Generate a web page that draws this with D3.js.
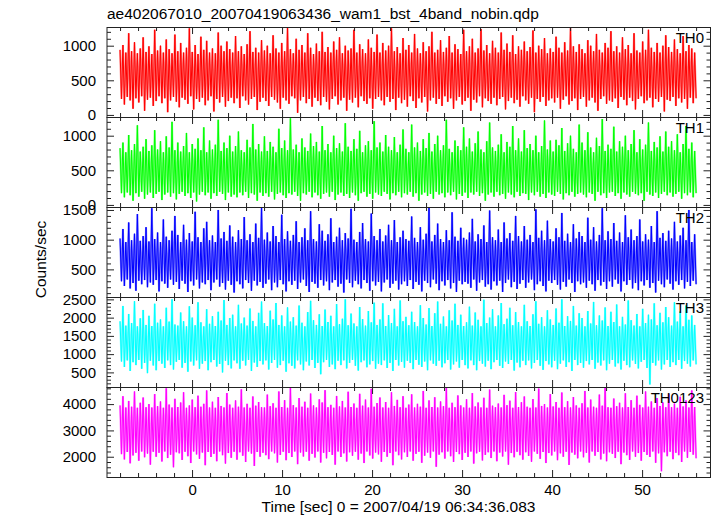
<!DOCTYPE html>
<html><head><meta charset="utf-8">
<script src="https://cdn.jsdelivr.net/npm/d3@7"></script>
<style>
body{margin:0;background:#fff}
text{font-family:"Liberation Sans",Arial,Helvetica,sans-serif;fill:#000}
</style>
</head><body>
<svg id="chart" width="717" height="516"></svg>
<script>
const titleText = "ae402067010_20070419063436_wam1_bst_4band_nobin.qdp";
const xLabelText = "Time [sec] 0 = 2007/04/19 06:34:36.083";
const yLabelText = "Counts/sec";
const seriesNames = ["TH0", "TH1", "TH2", "TH3", "TH0123"];
const seriesColors = ["#ff0000", "#00ff00", "#0000ff", "#00ffff", "#ff00ff"];
const timeStart = -8, timeEnd = 56;
const xDomain = [-9.45, 57.6];
const xMajorTicks = [0, 10, 20, 30, 40, 50];
const xMinorTicks = [-8,-6,-4,-2,2,4,6,8,12,14,16,18,22,24,26,28,32,34,36,38,42,44,46,48,52,54,56];
const yDomains = [[-30, 1270], [-30, 1270], [35, 1550], [100, 2565], [1230, 4650]];
const yMajorTicks = [[0, 500, 1000], [0, 500, 1000], [500, 1000, 1500], [500, 1000, 1500, 2000, 2500], [2000, 3000, 4000]];
const yMinorStep = [100, 100, 100, 100, 200];

const th0 = [
940,230,1010,150,900,260,1180,210,920,90,1050,240,890,180,960,270,1120,60,910,220,
990,250,880,130,1230,200,930,270,1000,170,900,240,1090,40,950,210,890,260,1160,190,
920,110,1040,250,900,220,970,160,1250,270,910,80,1010,230,880,190,1130,250,940,140,
1070,210,900,270,960,50,890,230,1190,180,1000,260,920,120,1060,200,950,250,900,170,
1140,240,920,100,990,270,880,210,1020,150,1210,230,910,260,970,70,900,190,1080,250,
930,200,1000,130,890,260,1150,220,960,180,900,90,1040,250,920,210,1260,160,950,270,
890,240,1100,30,940,210,1010,260,900,170,1180,230,970,120,880,250,1030,200,920,140,
1200,260,910,190,980,80,900,230,1060,270,940,150,1120,210,890,250,1000,60,930,220,
960,180,1230,250,900,110,1020,270,950,200,890,160,1090,240,970,90,910,230,1160,260,
900,210,1040,140,930,260,1000,190,1250,230,920,70,980,250,890,170,1110,220,940,120,
1010,270,900,200,1170,100,960,240,890,180,1050,260,920,50,990,210,1200,250,900,160,
940,230,1080,130,910,270,970,190,1140,240,900,90,1020,210,950,260,880,150,1230,200,
920,250,990,60,1100,220,900,180,960,270,1240,110,930,240,1010,200,890,160,1070,250,
970,140,900,230,1190,260,940,80,1030,200,910,250,1150,170,880,220,990,120,940,270,
1060,210,920,160,980,250,1220,40,900,230,1000,190,950,260,1110,130,890,210,960,240,
910,180,1130,250,970,90,900,220,1050,270,930,150,1260,200,990,240,910,70,1020,230,
950,260,890,120,1080,210,1000,250,920,180,1170,60,940,230,900,270,1040,160,970,210,
1210,190,920,240,990,100,900,260,1120,220,950,140,1010,250,890,200,1180,80,930,230,
900,270,1060,170,940,210,1230,250,970,110,910,230,1040,190,900,260,1000,50,1150,220,
980,200,910,260,1090,130,950,240,890,180,1140,230,920,90,1010,250,960,170,900,240];

const th1 = [
820,170,900,110,760,180,1010,140,790,60,880,170,1150,120,770,190,840,90,950,150,
780,180,860,100,1080,160,800,190,920,70,760,150,990,180,830,120,1200,170,790,80,
900,160,770,190,850,130,1040,170,760,100,880,180,810,50,960,150,790,190,1120,140,
760,180,930,90,800,170,870,130,1230,190,780,160,900,70,820,180,1000,120,770,150,
850,110,1060,180,790,140,760,190,940,100,830,170,1170,150,800,60,880,180,770,130,
990,170,780,120,910,190,840,80,760,160,1100,180,820,140,930,100,790,170,1250,150,
800,190,870,130,760,60,960,170,830,150,780,190,1030,110,850,180,910,140,770,90,
1140,160,790,180,880,120,760,190,1000,70,820,150,890,180,770,130,1180,160,840,100,
780,180,950,140,810,60,1070,170,760,190,860,120,920,160,790,90,1210,180,830,150,
900,130,770,190,1010,160,840,80,790,170,980,140,760,190,870,110,1090,170,810,150,
760,190,1160,120,830,170,900,60,780,150,950,180,820,130,1040,160,770,90,880,190,
1000,150,790,170,860,110,1230,180,810,140,760,190,930,80,850,160,790,130,1120,180,
840,100,960,180,770,150,890,190,1060,130,800,170,760,60,920,150,1190,180,830,120,
780,190,870,140,1020,160,760,90,910,180,840,150,1140,110,790,190,960,130,770,170,
1080,160,820,70,880,180,790,140,1000,190,760,120,850,160,1220,100,800,180,930,150,
770,130,940,190,860,160,1110,80,780,170,890,140,1000,190,810,120,760,160,1160,180,
900,150,790,110,1050,180,830,160,760,60,970,190,850,140,1240,170,780,100,870,180,
810,190,1130,130,770,170,920,90,840,180,1000,150,790,120,880,190,1080,160,760,140,
950,170,800,60,870,190,1190,150,780,130,910,180,830,100,990,160,770,190,1060,140,
840,180,920,120,790,160,1020,190,760,90,880,170,1140,140,810,180,900,110,780,170];

const th2 = [
1020,300,1180,220,960,330,1290,180,990,270,1100,140,1430,310,980,250,1060,320,1210,200,
970,280,1530,240,1010,320,1120,130,960,300,1340,260,1050,190,990,330,1150,240,1400,290,
1080,170,960,310,1250,260,1000,120,1110,300,970,230,1470,330,1040,180,960,280,1190,250,
1300,320,990,150,1070,280,960,330,1500,210,1020,270,1130,160,980,310,1240,240,1050,110,
960,300,1160,250,1010,180,1380,320,990,270,1090,140,960,310,1270,230,1030,290,1550,190,
1000,260,1120,330,970,150,1230,280,1060,200,960,320,1420,250,1010,130,1140,300,980,240,
1080,310,1310,170,960,280,1040,330,1190,220,990,120,1480,290,1010,260,970,190,1260,320,
1150,230,980,300,1090,150,1360,280,960,320,1050,210,1200,260,990,110,1110,330,1020,270,
1520,200,1000,310,960,250,1130,180,1280,320,1010,270,970,140,1440,300,1060,230,990,290,
1180,130,970,280,1070,330,1250,190,990,260,1330,310,960,160,1040,250,1150,300,1010,220,
980,320,1390,170,1030,290,960,240,1210,130,1000,310,1100,270,1540,200,970,330,1080,260,
1270,150,1010,300,960,230,1160,320,990,180,1460,270,1050,120,980,310,1200,250,1030,290,
1000,260,1120,190,1350,330,970,140,1090,280,1010,320,1240,210,960,250,1490,160,1040,300,
990,230,1170,310,960,120,1290,270,1020,330,1110,200,980,290,1400,170,1060,260,970,320,
1230,190,1000,280,1080,330,960,150,1510,250,1030,300,1150,220,990,130,1320,310,1010,270,
970,320,1190,240,1040,160,1450,290,980,210,1100,330,960,270,1260,120,1020,300,1130,250,
1060,280,960,190,1370,310,1000,250,1210,140,970,320,1080,230,1530,290,990,170,1140,300,
1010,210,1280,330,980,260,1120,130,960,300,1410,240,1040,320,1170,180,990,270,1060,150,
1340,300,970,230,1090,320,1000,190,1230,270,960,110,1480,310,1030,250,1110,200,980,330,
1150,260,1020,160,1300,300,970,240,1070,320,1200,180,990,290,1500,220,960,310,1090,250];

const th3 = [
1900,800,2320,650,1780,830,2100,540,1850,780,2450,700,1760,840,1980,600,2210,760,1800,480,
2050,820,1770,690,2380,560,1860,810,1950,740,1760,620,2270,830,1890,700,2500,580,1810,790,
1780,840,2140,630,1900,760,1760,520,2310,800,2000,690,1790,830,2420,600,1870,740,1760,810,
2230,560,1830,780,2040,840,1770,660,2160,730,1920,500,2480,820,1800,700,1990,610,2080,830,
1760,750,2350,600,1840,820,2000,690,1780,840,2250,540,1910,770,1760,650,2130,810,2440,720,
1850,830,1770,580,2190,760,1950,840,2400,630,1800,700,2060,820,1760,520,2280,750,1890,680,
2010,610,1780,830,2330,720,1860,560,1760,800,2150,690,2460,840,1930,620,1800,760,2090,450,
1770,780,2220,840,1880,650,2050,720,1760,590,2370,820,1820,700,1970,830,2500,610,1790,760,
2110,840,1840,680,1760,550,2290,780,1960,830,1780,640,2180,720,1870,810,2410,600,1800,740,
1950,700,2390,830,1770,620,2070,760,1850,540,2240,840,1760,690,2470,790,1900,630,2020,820,
1790,760,2160,590,1880,840,1760,710,2340,650,1990,800,1810,560,2260,830,1770,740,2120,680,
2440,820,1830,640,2030,750,1760,840,2200,580,1920,720,2380,800,1800,630,2080,840,1770,700,
1870,610,2300,830,1780,700,2140,560,1940,810,1760,740,2490,660,1850,820,2000,590,2230,780,
1760,840,2060,680,2400,620,1820,800,1970,730,2270,840,1790,550,2150,770,1880,640,1760,820,
2350,700,1900,830,1770,610,2090,760,2450,840,1830,680,2010,570,1760,810,2200,720,1950,640,
1800,820,2250,590,1860,740,2500,830,1770,650,2040,780,1910,540,2320,840,1780,700,2120,760,
1990,630,1760,810,2180,720,1840,840,2430,600,1790,770,2060,690,1920,830,2280,560,1770,740,
2160,840,1880,660,2360,750,1760,580,2020,820,1810,700,2470,640,1930,830,1780,730,2100,610,
1760,790,2240,840,1850,620,2080,170,1950,760,2390,690,1790,830,2130,580,1870,720,2290,840,
2010,650,1780,780,2420,700,1890,840,2170,600,1760,810,2330,740,1940,660,2060,830,1800,720];

const th0123 = [
3950,2100,4300,1900,3870,2180,4120,1750,3900,2050,4480,2150,3860,1850,4050,2200,4250,1980,3880,2120,
4000,1700,3870,2190,4380,2000,3920,2150,4100,1820,3860,2200,4600,1950,3980,2080,3870,1600,4200,2170,
3890,2130,4060,1880,4450,2190,3860,2020,3950,1760,4170,2200,3880,2090,4320,1920,3900,2160,4010,1680,
4520,2180,3870,1990,4090,2110,3860,1830,4270,2200,3930,2060,3870,1740,4420,2140,3980,1960,3860,2190,
4140,1890,3900,2170,4560,2040,3870,1800,4010,2200,3860,2120,4290,1650,3940,2180,4080,2000,3880,2150,
3870,2060,4360,1910,3920,2200,4030,2130,3860,1780,4480,2070,3890,2190,4150,1870,3860,2140,4620,1990,
3960,2200,3870,1720,4230,2160,3900,2010,4090,2190,3860,1850,4400,2110,3950,1970,3870,2200,4180,1780,
4060,2150,4530,1940,3880,2180,3970,2070,3860,1700,4310,2200,3910,1990,4120,2130,3870,1820,4470,2170,
3890,2040,4020,2190,3860,1890,4390,2120,3940,1760,4170,2200,3870,2050,4580,1930,3900,2160,4040,2090,
4250,1810,3870,2180,4080,2000,3860,2140,4450,1680,3930,2200,4160,2060,3880,1900,4300,2170,3860,1990,
3980,2200,4370,1850,3870,2110,4010,2190,3900,1770,4500,2040,3860,2160,4140,1960,3890,2200,4260,1620,
3870,2080,4100,2170,3920,1930,4610,2200,3860,2020,4050,1800,3880,2180,4330,2100,3950,1880,3870,2150,
4180,1990,3860,2200,4420,1740,3910,2130,4060,2190,3870,1860,4240,2070,3860,2170,4550,1950,3940,2200,
3880,1830,4020,2160,3870,2010,4350,2200,3960,1700,4130,2140,3860,1980,4460,2190,3890,2060,4070,1890,
4290,2170,3900,2030,3860,1810,4190,2200,3870,2110,4590,1920,3930,2180,4000,1760,3870,2140,4380,2050,
3910,2200,4080,1870,3860,2130,4440,2000,3880,2190,4110,1690,3870,2160,4270,2080,3950,1940,3860,2200,
4030,1980,4500,2150,3870,1780,4170,2200,3900,2040,3860,2180,4360,1900,3940,2120,4630,1830,3880,2170,
3860,2110,4210,1950,3920,2190,4050,1720,3870,2160,4410,2060,3890,1880,4150,2200,3860,2000,4320,2140,
3970,1850,3870,2180,4480,2070,3900,1990,4100,2200,3860,1770,4230,2130,3930,1450,4060,2170,3880,2020,
4390,2190,3880,1910,4020,2150,3860,2060,4280,1800,3910,2200,4140,1960,3870,2180,4520,2080,3890,1940];

const seriesValues = [th0, th1, th2, th3, th0123];

// ---- layout ----
const plotLeft = 107, plotRight = 710.5, plotTop = 27, panelH = 90;
const svg = d3.select("#chart");
const x = d3.scaleLinear().domain(xDomain).range([plotLeft, plotRight]);
const ink = "#222";
const tickFont = "15px", labelFont = "15.5px";

svg.append("text").attr("x", 107).attr("y", 18.5)
  .style("font-size", labelFont).text(titleText);

seriesValues.forEach((vals, i) => {
  const top = plotTop + i * panelH, bot = top + panelH;
  const y = d3.scaleLinear().domain(yDomains[i]).range([bot, top]);
  const n = vals.length;
  const step = (timeEnd - timeStart) / (n - 1);
  const g = svg.append("g");
  const clipId = "clip" + i;
  svg.append("clipPath").attr("id", clipId).append("rect")
    .attr("x", plotLeft).attr("y", top).attr("width", plotRight - plotLeft).attr("height", panelH);

  const line = d3.line().x((d, j) => x(timeStart + j * step)).y(d => y(d));
  const dg = g.append("g").attr("clip-path", `url(#${clipId})`);
  dg.append("path").datum(vals).attr("d", line).attr("fill", "none")
    .attr("stroke", seriesColors[i]).attr("stroke-width", 2.0).attr("stroke-opacity", 0.45)
    .attr("stroke-linejoin", "bevel");
  dg.append("path").datum(vals).attr("d", line).attr("fill", "none")
    .attr("stroke", seriesColors[i]).attr("stroke-width", 1.0).attr("stroke-linejoin", "bevel");

  // y axes
  const yMinor = d3.range(Math.ceil(yDomains[i][0] / yMinorStep[i]) * yMinorStep[i], yDomains[i][1], yMinorStep[i])
    .filter(v => !yMajorTicks[i].includes(v));
  const left = g.append("g").attr("transform", `translate(${plotLeft},0)`)
    .call(d3.axisLeft(y).tickValues(yMajorTicks[i]).tickSize(-7).tickPadding(11).tickFormat(d3.format("d")));
  left.append("g").call(d3.axisLeft(y).tickValues(yMinor).tickSize(-4).tickFormat(""));
  const right = g.append("g").attr("transform", `translate(${plotRight},0)`)
    .call(d3.axisRight(y).tickValues(yMajorTicks[i]).tickSize(-7).tickFormat(""));
  right.append("g").call(d3.axisRight(y).tickValues(yMinor).tickSize(-4).tickFormat(""));

  // x axes (inward ticks, top and bottom)
  const bAx = g.append("g").attr("transform", `translate(0,${bot})`)
    .call(d3.axisBottom(x).tickValues(xMajorTicks).tickSize(-7).tickPadding(7)
      .tickFormat(i === seriesValues.length - 1 ? d3.format("d") : ""));
  bAx.append("g").call(d3.axisBottom(x).tickValues(xMinorTicks).tickSize(-4).tickFormat(""));
  const tAx = g.append("g").attr("transform", `translate(0,${top})`)
    .call(d3.axisTop(x).tickValues(xMajorTicks).tickSize(-7).tickFormat(""));
  tAx.append("g").call(d3.axisTop(x).tickValues(xMinorTicks).tickSize(-4).tickFormat(""));

  g.selectAll(".domain").remove();
  g.selectAll(".tick line").attr("stroke", ink);
  g.selectAll(".tick text").style("font-size", tickFont).attr("fill", "#000")
    .style("font-family", '"Liberation Sans",Arial,sans-serif');

  g.append("rect").attr("x", plotLeft).attr("y", top + 0.5)
    .attr("width", plotRight - plotLeft).attr("height", panelH)
    .attr("fill", "none").attr("stroke", ink).attr("stroke-width", 1);

  g.append("text").attr("x", 704).attr("y", top + 16).attr("text-anchor", "end")
    .style("font-size", tickFont).text(seriesNames[i]);
});

svg.append("text").attr("transform", "translate(45.5,259.5) rotate(-90)")
  .attr("text-anchor", "middle").style("font-size", labelFont).text(yLabelText);
svg.append("text").attr("x", 398.5).attr("y", 512).attr("text-anchor", "middle")
  .style("font-size", labelFont).text(xLabelText);
</script>
</body></html>
